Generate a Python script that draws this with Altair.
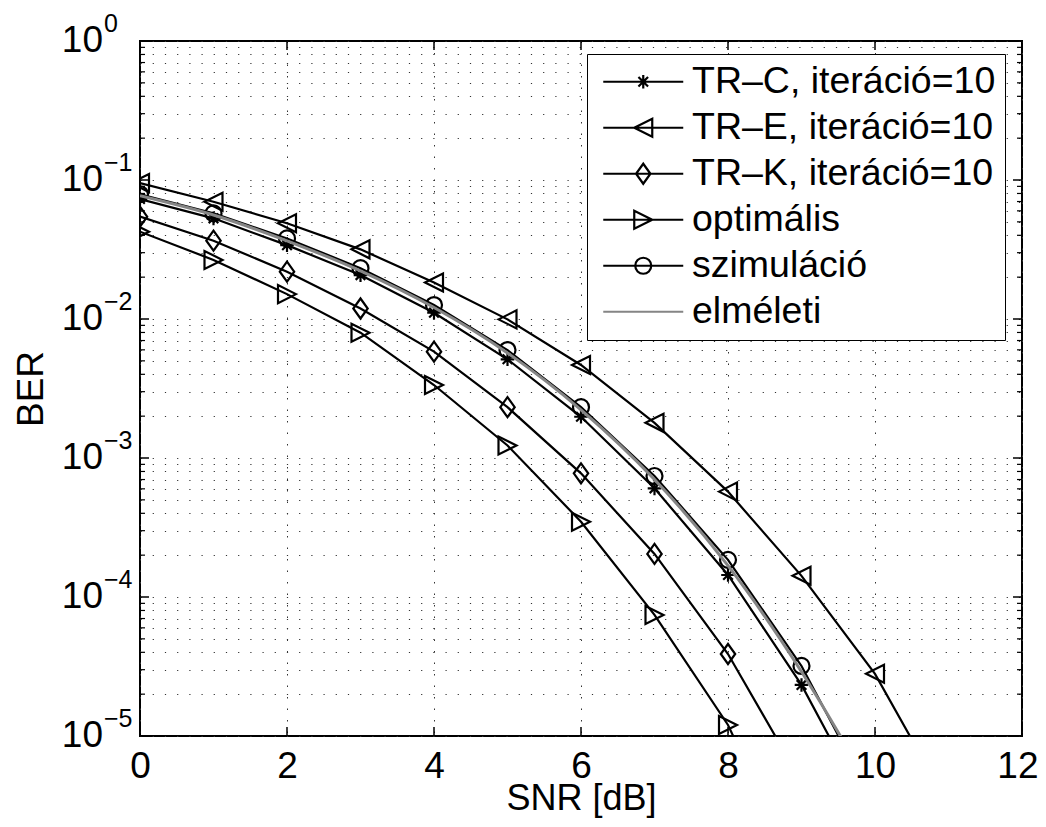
import altair as alt
import pandas as pd
import re

# ---------------- data ----------------
SERIES = ["TR–C, iteráció=10", "TR–E, iteráció=10", "TR–K, iteráció=10",
          "optimális", "szimuláció", "elméleti"]

snr_trc = [0, 1, 2, 3, 4, 5, 6, 7, 8, 9, 10]
ber_trc = [0.073, 0.053, 0.034, 0.0207, 0.0111, 0.00513, 0.00198, 0.000605, 0.000144, 2.33e-5, 2.4e-6]

snr_tre = [0, 1, 2, 3, 4, 5, 6, 7, 8, 9, 10, 11]
ber_tre = [0.095, 0.0698, 0.0488, 0.0317, 0.0183, 0.00994, 0.00467, 0.00179, 0.000573, 0.000142, 2.8e-5, 3.2e-6]

snr_trk = [0, 1, 2, 3, 4, 5, 6, 7, 8, 9]
ber_trk = [0.0545, 0.0366, 0.0219, 0.0119, 0.00582, 0.00232, 0.000776, 0.000204, 3.89e-5, 4.7e-6]

snr_opt = [0, 1, 2, 3, 4, 5, 6, 7, 8, 9]
ber_opt = [0.0425, 0.0266, 0.0151, 0.00797, 0.00335, 0.00123, 0.000348, 7.43e-5, 1.2e-5, 9e-7]

snr_sim = [0, 1, 2, 3, 4, 5, 6, 7, 8, 9, 10]
ber_sim = [0.079, 0.0575, 0.038, 0.0232, 0.0126, 0.00598, 0.00232, 0.000742, 0.000185, 3.19e-5, 3.2e-6]

snr_th = [0, 1, 2, 3, 4, 5, 6, 7, 8, 9, 10]
ber_th = [0.077, 0.056, 0.0365, 0.0222, 0.0121, 0.0057, 0.00222, 0.0007, 0.000168, 2.9e-5, 3.7e-6]

x_ticks = [0, 2, 4, 6, 8, 10, 12]
y_major = [1, 1e-1, 1e-2, 1e-3, 1e-4, 1e-5]
y_mant = ["10", "10", "10", "10", "10", "10"]
y_exp = ["0", "−1", "−2", "−3", "−4", "−5"]
y_minor = [m * 10.0 ** e for e in range(-5, 0) for m in range(2, 10)]

# ---------------- styling ----------------
W, H = 882, 695
FONT = "Liberation Sans"

# marker shapes (unit = 10 px at size 400)
P_STAR = "M-0.68,0H0.68M0,-0.68V0.68M-0.48,-0.48L0.48,0.48M-0.48,0.48L0.48,-0.48"
P_TRIL = "M-0.9,0L0.9,-0.9L0.9,0.9Z"
P_TRIR = "M0.9,0L-0.9,-0.9L-0.9,0.9Z"
P_DIAM = "M0,-1L0.72,0L0,1L-0.72,0Z"
P_CIRC = "M0.8,0A0.8,0.8,0,1,1,-0.8,0A0.8,0.8,0,1,1,0.8,0Z"


def legend_path(marker, cx=3.0):
    """Horizontal legend line from -1 to 7 with the marker moved to its middle."""
    res, cmd, nums = "", None, []

    def flush(c, n):
        if c is None:
            return ""
        if c in "ML":
            s = ""
            for i in range(0, len(n), 2):
                s += f"{c if i == 0 else 'L'}{n[i] + cx:.3f},{n[i + 1]:.3f}"
            return s
        if c == "H":
            return "H" + ",".join(f"{v + cx:.3f}" for v in n)
        if c == "V":
            return "V" + ",".join(f"{v:.3f}" for v in n)
        if c == "A":
            s = ""
            for i in range(0, len(n), 7):
                a = n[i:i + 7]
                s += f"A{a[0]},{a[1]},{int(a[2])},{int(a[3])},{int(a[4])},{a[5] + cx:.3f},{a[6]:.3f}"
            return s
        if c == "Z":
            return "Z"
        return ""

    for tok in re.findall(r"[MLHVAZ]|-?\d*\.?\d+", marker):
        if tok in "MLHVAZ":
            res += flush(cmd, nums)
            cmd, nums = tok, []
        else:
            nums.append(float(tok))
    res += flush(cmd, nums)
    return "M-1,0H7" + res


LEG_PATHS = [legend_path(P_STAR), legend_path(P_TRIL), legend_path(P_DIAM),
             legend_path(P_TRIR), legend_path(P_CIRC), "M-1,0H7"]
GRAY = "#858585"
LEG_COLORS = ["black", "black", "black", "black", "black", GRAY]

# ---------------- tables ----------------
def frame(name, xs, ys):
    return pd.DataFrame({"snr": xs, "ber": ys, "series": name})

df_trc = frame(SERIES[0], snr_trc, ber_trc)
df_tre = frame(SERIES[1], snr_tre, ber_tre)
df_trk = frame(SERIES[2], snr_trk, ber_trk)
df_opt = frame(SERIES[3], snr_opt, ber_opt)
df_sim = frame(SERIES[4], snr_sim, ber_sim)
df_th = frame(SERIES[5], snr_th, ber_th)
df_lines = pd.concat([df_trc, df_tre, df_trk, df_opt, df_sim], ignore_index=True)

df_xt = pd.DataFrame({"snr": x_ticks})
df_ymaj = pd.DataFrame({"ber": y_major})
df_ymin = pd.DataFrame({"ber": y_minor})
df_ylab = pd.DataFrame({"ber": y_major, "mant": y_mant, "exp": y_exp})
df_leg = pd.DataFrame({"series": SERIES})

# ---------------- encodings ----------------
x_enc = alt.X("snr:Q",
              scale=alt.Scale(domain=[0, 12], nice=False, zero=False),
              axis=alt.Axis(values=x_ticks, grid=True, gridDash=[1.5, 10], gridColor="#333333",
                            gridWidth=1, ticks=False, domain=False, labelFlush=False,
                            labelAlign={"expr": "datum.value == 12 ? 'right' : 'center'"},
                            labelOffset={"expr": "datum.value == 12 ? 16 : 0"},
                            labelFontSize=37, labelFont=FONT, labelColor="black", labelPadding=12,
                            title="SNR [dB]", titleFont=FONT, titleFontSize=36,
                            titleFontWeight="normal", titleColor="black",
                            titleBaseline="alphabetic", titleAlign="center",
                            titleX=W / 2, titleY=73))
y_enc = alt.Y("ber:Q",
              scale=alt.Scale(type="log", domain=[1e-5, 1], nice=False),
              axis=alt.Axis(values=y_major + y_minor, grid=True, gridDash=[1.2, 11],
                            gridColor="#333333", gridWidth=1, ticks=False, domain=False,
                            labels=False, title="BER", titleFont=FONT, titleFontSize=37,
                            titleFontWeight="normal", titleColor="black", titleAngle=270,
                            titleBaseline="alphabetic", titleAlign="center",
                            titleX=-98, titleY=H / 2))

layers = []

# main black lines
layers.append(alt.Chart(df_lines).mark_line(color="black", strokeWidth=2.2, clip=True).encode(
    x=x_enc, y=y_enc, detail="series:N", order="snr:Q"))

# markers, one layer per series
for d, p in [(df_trc, P_STAR), (df_tre, P_TRIL), (df_trk, P_DIAM), (df_opt, P_TRIR), (df_sim, P_CIRC)]:
    layers.append(alt.Chart(d).mark_point(shape=p, size=400, filled=False, color="black",
                                          strokeWidth=2.2, opacity=1, clip=True).encode(x=x_enc, y=y_enc))

# theoretical gray curve
layers.append(alt.Chart(df_th).mark_line(color=GRAY, strokeWidth=3, clip=True,
                                         interpolate="monotone").encode(x=x_enc, y=y_enc))

# inward ticks (MATLAB style box)
layers.append(alt.Chart(df_xt).mark_rule(color="black", strokeWidth=1.5).encode(
    x=x_enc, y=alt.value(H), y2=alt.value(H - 9)))
layers.append(alt.Chart(df_xt).mark_rule(color="black", strokeWidth=1.5).encode(
    x=x_enc, y=alt.value(0), y2=alt.value(9)))
layers.append(alt.Chart(df_ymaj).mark_rule(color="black", strokeWidth=1.5).encode(
    y=y_enc, x=alt.value(0), x2=alt.value(9)))
layers.append(alt.Chart(df_ymaj).mark_rule(color="black", strokeWidth=1.5).encode(
    y=y_enc, x=alt.value(W), x2=alt.value(W - 9)))
layers.append(alt.Chart(df_ymin).mark_rule(color="black", strokeWidth=1.2).encode(
    y=y_enc, x=alt.value(0), x2=alt.value(5)))
layers.append(alt.Chart(df_ymin).mark_rule(color="black", strokeWidth=1.2).encode(
    y=y_enc, x=alt.value(W), x2=alt.value(W - 5)))

# y tick labels 10^k
layers.append(alt.Chart(df_ylab).mark_text(align="right", baseline="middle", fontSize=37,
                                           font=FONT, color="black").encode(
    y=y_enc, x=alt.value(-37), text="mant:N"))
layers.append(alt.Chart(df_ylab).mark_text(align="left", baseline="middle", fontSize=25,
                                           font=FONT, color="black", dy=-17).encode(
    y=y_enc, x=alt.value(-36), text="exp:N"))

# legend (invisible marks, visible legend)
leg = alt.Legend(title=None, orient="none", legendX=447, legendY=13, padding=9,
                 symbolOffset=-1.5, labelOffset=60, rowPadding=7, symbolSize=400,
                 symbolStrokeWidth=2.2, symbolOpacity=1, symbolFillColor="transparent",
                 labelFontSize=37.5, labelFont=FONT, labelColor="black", labelLimit=700,
                 labelBaseline="middle",
                 strokeColor="black", fillColor="white", cornerRadius=0)
layers.append(alt.Chart(df_leg).mark_point(opacity=0, filled=False, strokeWidth=2).encode(
    shape=alt.Shape("series:N", scale=alt.Scale(domain=SERIES, range=LEG_PATHS), legend=leg),
    color=alt.Color("series:N", scale=alt.Scale(domain=SERIES, range=LEG_COLORS), legend=leg)))

chart = alt.layer(*layers).properties(
    width=W, height=H, autosize="none",
    padding={"left": 132, "top": 33, "right": 16, "bottom": 83},
    background="white",
).configure_view(stroke="black", strokeWidth=2)

chart.save("out.html", embed_options={"renderer": "svg", "actions": False})
